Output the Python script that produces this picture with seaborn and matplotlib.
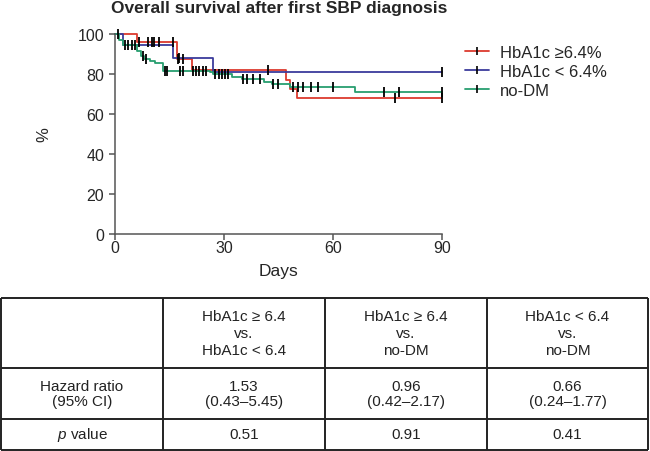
import numpy as np
import pandas as pd
import matplotlib
matplotlib.use("Agg")
import matplotlib.pyplot as plt
from matplotlib.lines import Line2D
import seaborn as sns

# ---------------- data ----------------
groups = ["HbA1c \u22656.4%", "HbA1c < 6.4%", "no-DM"]
colors = ["#dc3a2e", "#3b3b9c", "#279e6f"]

red_times = [0, 6, 17, 21, 47, 48, 50, 90]
red_surv = [100, 96.2, 87.4, 82.2, 77.2, 72.5, 67.8, 67.8]
red_cens = [6.6, 8.9, 10, 10.7, 12.1, 16, 17.2, 18.5, 42, 77, 90]

blue_times = [0, 2, 16, 27, 90]
blue_surv = [100, 94.5, 88.0, 80.8, 80.8]
blue_cens = [17.6, 90]

green_times = [0, 1, 2, 6, 7, 8, 9.5, 11, 13, 26, 27, 32, 35, 41, 43, 48, 66, 90]
green_surv = [100, 97.2, 94.4, 91.5, 89.0, 87.5, 86.7, 85.3, 81.7, 80.8, 79.8,
              78.5, 77.3, 76.2, 74.8, 73.5, 70.8, 70.8]
green_cens = [0.8, 2.7, 3.6, 4.5, 5.4, 7.5, 8.5, 13.7, 14.3, 17.8, 18.7, 21.3, 22.2,
              23.1, 24.0, 25.0, 27.4, 28.4, 29.3, 30.2, 31.1, 35.2, 36.2, 38.0,
              39.8, 43.5, 44.9, 49.0, 50.4, 51.7, 53.8, 55.9, 60.0, 74, 78, 90]

x_ticks = [0, 30, 60, 90]
y_ticks = [0, 20, 40, 60, 80, 100]

col_headers = ["HbA1c \u2265 6.4\nvs.\nHbA1c < 6.4",
               "HbA1c \u2265 6.4\nvs.\nno-DM",
               "HbA1c < 6.4\nvs.\nno-DM"]
row_labels = ["Hazard ratio\n(95% CI)", "$p$ value"]
hr = ["1.53", "0.96", "0.66"]
ci = ["(0.43\u20135.45)", "(0.42\u20132.17)", "(0.24\u20131.77)"]
pvals = ["0.51", "0.91", "0.41"]

# ---------------- style ----------------
sns.set_style("ticks")
plt.rcParams["font.family"] = ["Liberation Sans", "DejaVu Sans"]
plt.rcParams["mathtext.fontset"] = "custom"
plt.rcParams["mathtext.it"] = "Liberation Sans:italic"
plt.rcParams["mathtext.rm"] = "Liberation Sans"

fig = plt.figure(figsize=(6.5, 4.52), dpi=100)
ax = fig.add_axes([0.1774, 0.4801, 0.6805 - 0.1774, 0.9226 - 0.4801])

series = [(red_times, red_surv, red_cens),
          (blue_times, blue_surv, blue_cens),
          (green_times, green_surv, green_cens)]

rows = []
for g, (t, s, _) in zip(groups, series):
    for ti, si in zip(t, s):
        rows.append({"Days": ti, "surv": si, "group": g})
df = pd.DataFrame(rows)

sns.lineplot(data=df, x="Days", y="surv", hue="group", hue_order=groups,
             palette=colors, estimator=None, sort=False, drawstyle="steps-post",
             linewidth=1.3, legend=False, ax=ax, clip_on=False)

# censor marks
for (t, s, c) in series:
    t = np.asarray(t, float)
    s = np.asarray(s, float)
    c = np.asarray(c, float)
    idx = np.searchsorted(t, c, side="right") - 1
    idx = np.clip(idx, 0, len(s) - 1)
    ax.plot(c, s[idx], linestyle="none", marker="|", color="black",
            markersize=6.5, markeredgewidth=1.3, clip_on=False, zorder=5)

ax.set_xlim(0, 90)
ax.set_ylim(0, 100)
ax.set_xticks(x_ticks)
ax.set_yticks(y_ticks)
ax.tick_params(labelsize=11.5, length=4, width=1.1, color="#555555")
ax.tick_params(axis="x", pad=0)
ax.tick_params(axis="y", pad=4)
for sp in ["left", "bottom"]:
    ax.spines[sp].set_color("#555555")
    ax.spines[sp].set_linewidth(1.1)
sns.despine(ax=ax)
ax.set_xlabel("Days", fontsize=12.5, labelpad=6)
ax.set_ylabel("%", fontsize=12, labelpad=19)
ax.set_title("Overall survival after first SBP diagnosis", fontsize=12.5,
             fontweight="bold", pad=16)

handles = [Line2D([0, 0.5, 1], [0, 0, 0], color=c, lw=1.3, marker="|", markersize=6,
                  markeredgecolor="black", markevery=[1], markeredgewidth=1.2)
           for c in colors]
leg = fig.legend(handles, groups, loc="upper left",
                 bbox_to_anchor=(0.692, 0.932), frameon=False, fontsize=12,
                 handlelength=1.45, handletextpad=0.65, labelspacing=0.25)

# ---------------- table ----------------
tax = fig.add_axes([0, 0, 1, 1])
tax.set_xlim(0, 650)
tax.set_ylim(452, 0)
tax.axis("off")
xs = [1, 163, 325, 487, 648]
ys = [299, 369, 420, 451]
tax.hlines(ys, xs[0], xs[-1], color="#222222", lw=1.4)
tax.vlines(xs, ys[0], ys[-1], color="#222222", lw=1.4)

def cx(i):
    return (xs[i] + xs[i + 1]) / 2

def cy(j):
    return (ys[j] + ys[j + 1]) / 2

kw = dict(ha="center", va="center", fontsize=11, color="#222222")
for i, h in enumerate(col_headers):
    tax.text(cx(i + 1), cy(0), h, linespacing=1.3, **kw)
tax.text(cx(0), cy(1), row_labels[0], linespacing=1.15, **kw)
tax.text(cx(0), cy(2), row_labels[1], **kw)
for i in range(3):
    tax.text(cx(i + 1), cy(1), hr[i] + "\n" + ci[i], linespacing=1.15, **kw)
    tax.text(cx(i + 1), cy(2), pvals[i], **kw)

fig.savefig("out.png", dpi=100)
